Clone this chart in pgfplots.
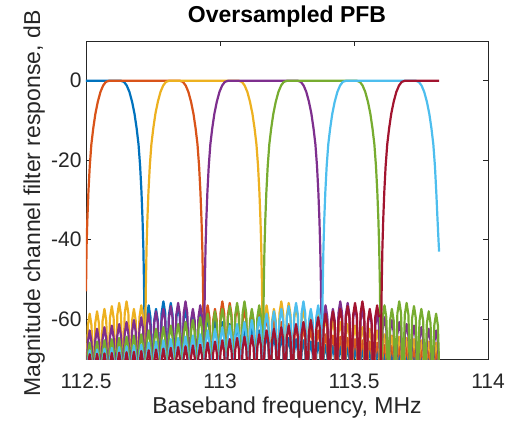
\documentclass[border=0pt]{standalone}
\usepackage{fontspec}
\setmainfont{Liberation Sans}
\usepackage{pgfplots}
\usepackage{pgfplotstable}
\pgfplotsset{compat=1.18}
\definecolor{cB}{RGB}{0,114,189}
\definecolor{cO}{RGB}{217,83,25}
\definecolor{cY}{RGB}{237,177,32}
\definecolor{cP}{RGB}{126,47,142}
\definecolor{cG}{RGB}{119,172,48}
\definecolor{cC}{RGB}{77,190,238}
\definecolor{cM}{RGB}{162,20,47}
\definecolor{axgray}{RGB}{38,38,38}
% stopband side lobes of the seven channels (nan = inside the channel's main lobe)
\pgfplotstableread{
x B O Y P G C M
112.5 nan nan -78 -78 -78 -78 -78
112.5069 nan nan -61.6 -65.8 -68.9 -70.8 -71.8
112.5138 nan nan -58.6 -62.8 -65.9 -67.8 -68.8
112.5206 nan nan -61.6 -65.8 -68.9 -70.8 -71.8
112.5275 nan nan -78 -78 -78 -78 -78
112.5344 nan nan -61 -65.4 -68.6 -70.6 -71.7
112.5413 nan nan -58 -62.4 -65.6 -67.6 -68.7
112.5481 nan nan -61 -65.4 -68.6 -70.6 -71.7
112.555 nan nan -78 -78 -78 -78 -78
112.5619 nan nan -60.4 -65 -68.3 -70.4 -71.6
112.5688 nan nan -57.4 -62 -65.3 -67.4 -68.6
112.5756 nan nan -60.4 -65 -68.3 -70.4 -71.6
112.5825 nan nan -78 -78 -78 -78 -78
112.5894 nan nan -59.7 -64.6 -68 -70.2 -71.5
112.5963 nan nan -56.7 -61.6 -65 -67.2 -68.5
112.6031 nan nan -59.7 -64.6 -68 -70.2 -71.5
112.61 nan nan -78 -78 -78 -78 -78
112.6169 nan nan -58.9 -64.2 -67.7 -70 -71.4
112.6238 nan nan -55.9 -61.2 -64.7 -67 -68.4
112.6306 nan nan -58.9 -64.2 -67.7 -70 -71.4
112.6375 nan nan -78 -78 -78 -78 -78
112.6444 nan nan -58.5 -63.7 -67.4 -69.8 -71.3
112.6513 nan nan -55.5 -60.7 -64.4 -66.8 -68.3
112.6581 nan nan -58.5 -63.7 -67.4 -69.8 -71.3
112.665 nan nan -78 -78 -78 -78 -78
112.6719 nan nan -60.4 -63.2 -67.1 -69.6 -71.2
112.6788 nan nan -57.4 -60.2 -64.1 -66.6 -68.2
112.6856 nan nan -60.4 -63.2 -67.1 -69.6 -71.2
112.6925 nan nan -78 -78 -78 -78 -78
112.6994 nan nan -59.5 -62.5 -66.8 -69.4 -71
112.7063 nan nan -56.5 -59.5 -63.8 -66.4 -68
112.7131 nan nan -59.5 -62.5 -66.8 -69.4 -71
112.72 -78 nan -78 -78 -78 -78 -78
112.7269 -59.5 nan nan -61.6 -65.8 -68.9 -70.8
112.7338 -56.5 nan nan -58.6 -62.8 -65.9 -67.8
112.7406 -59.5 nan nan -61.6 -65.8 -68.9 -70.8
112.7475 -78 nan nan -78 -78 -78 -78
112.7544 -60.4 nan nan -61 -65.4 -68.6 -70.6
112.7613 -57.4 nan nan -58 -62.4 -65.6 -67.6
112.7681 -60.4 nan nan -61 -65.4 -68.6 -70.6
112.775 -78 nan nan -78 -78 -78 -78
112.7819 -58.5 nan nan -60.4 -65 -68.3 -70.4
112.7888 -55.5 nan nan -57.4 -62 -65.3 -67.4
112.7956 -58.5 nan nan -60.4 -65 -68.3 -70.4
112.8025 -78 nan nan -78 -78 -78 -78
112.8094 -58.9 nan nan -59.7 -64.6 -68 -70.2
112.8163 -55.9 nan nan -56.7 -61.6 -65 -67.2
112.8231 -58.9 nan nan -59.7 -64.6 -68 -70.2
112.83 -78 nan nan -78 -78 -78 -78
112.8369 -59.7 nan nan -58.9 -64.2 -67.7 -70
112.8438 -56.7 nan nan -55.9 -61.2 -64.7 -67
112.8506 -59.7 nan nan -58.9 -64.2 -67.7 -70
112.8575 -78 nan nan -78 -78 -78 -78
112.8644 -60.4 nan nan -58.5 -63.7 -67.4 -69.8
112.8713 -57.4 nan nan -55.5 -60.7 -64.4 -66.8
112.8781 -60.4 nan nan -58.5 -63.7 -67.4 -69.8
112.885 -78 nan nan -78 -78 -78 -78
112.8919 -61 nan nan -60.4 -63.2 -67.1 -69.6
112.8988 -58 nan nan -57.4 -60.2 -64.1 -66.6
112.9056 -61 nan nan -60.4 -63.2 -67.1 -69.6
112.9125 -78 nan nan -78 -78 -78 -78
112.9194 -61.6 nan nan -59.5 -62.5 -66.8 -69.4
112.9263 -58.6 nan nan -56.5 -59.5 -63.8 -66.4
112.9331 -61.6 nan nan -59.5 -62.5 -66.8 -69.4
112.94 -78 -78 nan -78 -78 -78 -78
112.9469 -62.5 -59.5 nan nan -61.6 -65.8 -68.9
112.9538 -59.5 -56.5 nan nan -58.6 -62.8 -65.9
112.9606 -62.5 -59.5 nan nan -61.6 -65.8 -68.9
112.9675 -78 -78 nan nan -78 -78 -78
112.9744 -63.2 -60.4 nan nan -61 -65.4 -68.6
112.9813 -60.2 -57.4 nan nan -58 -62.4 -65.6
112.9881 -63.2 -60.4 nan nan -61 -65.4 -68.6
112.995 -78 -78 nan nan -78 -78 -78
113.0019 -63.7 -58.5 nan nan -60.4 -65 -68.3
113.0088 -60.7 -55.5 nan nan -57.4 -62 -65.3
113.0156 -63.7 -58.5 nan nan -60.4 -65 -68.3
113.0225 -78 -78 nan nan -78 -78 -78
113.0294 -64.2 -58.9 nan nan -59.7 -64.6 -68
113.0363 -61.2 -55.9 nan nan -56.7 -61.6 -65
113.0431 -64.2 -58.9 nan nan -59.7 -64.6 -68
113.05 -78 -78 nan nan -78 -78 -78
113.0569 -64.6 -59.7 nan nan -58.9 -64.2 -67.7
113.0638 -61.6 -56.7 nan nan -55.9 -61.2 -64.7
113.0706 -64.6 -59.7 nan nan -58.9 -64.2 -67.7
113.0775 -78 -78 nan nan -78 -78 -78
113.0844 -65 -60.4 nan nan -58.5 -63.7 -67.4
113.0913 -62 -57.4 nan nan -55.5 -60.7 -64.4
113.0981 -65 -60.4 nan nan -58.5 -63.7 -67.4
113.105 -78 -78 nan nan -78 -78 -78
113.1119 -65.4 -61 nan nan -60.4 -63.2 -67.1
113.1188 -62.4 -58 nan nan -57.4 -60.2 -64.1
113.1256 -65.4 -61 nan nan -60.4 -63.2 -67.1
113.1325 -78 -78 nan nan -78 -78 -78
113.1394 -65.8 -61.6 nan nan -59.5 -62.5 -66.8
113.1463 -62.8 -58.6 nan nan -56.5 -59.5 -63.8
113.1531 -65.8 -61.6 nan nan -59.5 -62.5 -66.8
113.16 -78 -78 -78 nan -78 -78 -78
113.1669 -66.8 -62.5 -59.5 nan nan -61.6 -65.8
113.1738 -63.8 -59.5 -56.5 nan nan -58.6 -62.8
113.1806 -66.8 -62.5 -59.5 nan nan -61.6 -65.8
113.1875 -78 -78 -78 nan nan -78 -78
113.1944 -67.1 -63.2 -60.4 nan nan -61 -65.4
113.2013 -64.1 -60.2 -57.4 nan nan -58 -62.4
113.2081 -67.1 -63.2 -60.4 nan nan -61 -65.4
113.215 -78 -78 -78 nan nan -78 -78
113.2219 -67.4 -63.7 -58.5 nan nan -60.4 -65
113.2288 -64.4 -60.7 -55.5 nan nan -57.4 -62
113.2356 -67.4 -63.7 -58.5 nan nan -60.4 -65
113.2425 -78 -78 -78 nan nan -78 -78
113.2494 -67.7 -64.2 -58.9 nan nan -59.7 -64.6
113.2563 -64.7 -61.2 -55.9 nan nan -56.7 -61.6
113.2631 -67.7 -64.2 -58.9 nan nan -59.7 -64.6
113.27 -78 -78 -78 nan nan -78 -78
113.2769 -68 -64.6 -59.7 nan nan -58.9 -64.2
113.2838 -65 -61.6 -56.7 nan nan -55.9 -61.2
113.2906 -68 -64.6 -59.7 nan nan -58.9 -64.2
113.2975 -78 -78 -78 nan nan -78 -78
113.3044 -68.3 -65 -60.4 nan nan -58.5 -63.7
113.3113 -65.3 -62 -57.4 nan nan -55.5 -60.7
113.3181 -68.3 -65 -60.4 nan nan -58.5 -63.7
113.325 -78 -78 -78 nan nan -78 -78
113.3319 -68.6 -65.4 -61 nan nan -60.4 -63.2
113.3388 -65.6 -62.4 -58 nan nan -57.4 -60.2
113.3456 -68.6 -65.4 -61 nan nan -60.4 -63.2
113.3525 -78 -78 -78 nan nan -78 -78
113.3594 -68.9 -65.8 -61.6 nan nan -59.5 -62.5
113.3663 -65.9 -62.8 -58.6 nan nan -56.5 -59.5
113.3731 -68.9 -65.8 -61.6 nan nan -59.5 -62.5
113.38 -78 -78 -78 -78 nan -78 -78
113.3869 -69.4 -66.8 -62.5 -59.5 nan nan -61.6
113.3938 -66.4 -63.8 -59.5 -56.5 nan nan -58.6
113.4006 -69.4 -66.8 -62.5 -59.5 nan nan -61.6
113.4075 -78 -78 -78 -78 nan nan -78
113.4144 -69.6 -67.1 -63.2 -60.4 nan nan -61
113.4213 -66.6 -64.1 -60.2 -57.4 nan nan -58
113.4281 -69.6 -67.1 -63.2 -60.4 nan nan -61
113.435 -78 -78 -78 -78 nan nan -78
113.4419 -69.8 -67.4 -63.7 -58.5 nan nan -60.4
113.4488 -66.8 -64.4 -60.7 -55.5 nan nan -57.4
113.4556 -69.8 -67.4 -63.7 -58.5 nan nan -60.4
113.4625 -78 -78 -78 -78 nan nan -78
113.4694 -70 -67.7 -64.2 -58.9 nan nan -59.7
113.4763 -67 -64.7 -61.2 -55.9 nan nan -56.7
113.4831 -70 -67.7 -64.2 -58.9 nan nan -59.7
113.49 -78 -78 -78 -78 nan nan -78
113.4969 -70.2 -68 -64.6 -59.7 nan nan -58.9
113.5038 -67.2 -65 -61.6 -56.7 nan nan -55.9
113.5106 -70.2 -68 -64.6 -59.7 nan nan -58.9
113.5175 -78 -78 -78 -78 nan nan -78
113.5244 -70.4 -68.3 -65 -60.4 nan nan -58.5
113.5313 -67.4 -65.3 -62 -57.4 nan nan -55.5
113.5381 -70.4 -68.3 -65 -60.4 nan nan -58.5
113.545 -78 -78 -78 -78 nan nan -78
113.5519 -70.6 -68.6 -65.4 -61 nan nan -60.4
113.5588 -67.6 -65.6 -62.4 -58 nan nan -57.4
113.5656 -70.6 -68.6 -65.4 -61 nan nan -60.4
113.5725 -78 -78 -78 -78 nan nan -78
113.5794 -70.8 -68.9 -65.8 -61.6 nan nan -59.5
113.5863 -67.8 -65.9 -62.8 -58.6 nan nan -56.5
113.5931 -70.8 -68.9 -65.8 -61.6 nan nan -59.5
113.6 -78 -78 -78 -78 -78 nan nan
113.6069 -71 -69.4 -66.8 -62.5 -59.5 nan nan
113.6138 -68 -66.4 -63.8 -59.5 -56.5 nan nan
113.6206 -71 -69.4 -66.8 -62.5 -59.5 nan nan
113.6275 -78 -78 -78 -78 -78 nan nan
113.6344 -71.2 -69.6 -67.1 -63.2 -60.4 nan nan
113.6413 -68.2 -66.6 -64.1 -60.2 -57.4 nan nan
113.6481 -71.2 -69.6 -67.1 -63.2 -60.4 nan nan
113.655 -78 -78 -78 -78 -78 nan nan
113.6619 -71.3 -69.8 -67.4 -63.7 -58.5 nan nan
113.6688 -68.3 -66.8 -64.4 -60.7 -55.5 nan nan
113.6756 -71.3 -69.8 -67.4 -63.7 -58.5 nan nan
113.6825 -78 -78 -78 -78 -78 nan nan
113.6894 -71.4 -70 -67.7 -64.2 -58.9 nan nan
113.6963 -68.4 -67 -64.7 -61.2 -55.9 nan nan
113.7031 -71.4 -70 -67.7 -64.2 -58.9 nan nan
113.71 -78 -78 -78 -78 -78 nan nan
113.7169 -71.5 -70.2 -68 -64.6 -59.7 nan nan
113.7238 -68.5 -67.2 -65 -61.6 -56.7 nan nan
113.7306 -71.5 -70.2 -68 -64.6 -59.7 nan nan
113.7375 -78 -78 -78 -78 -78 nan nan
113.7444 -71.6 -70.4 -68.3 -65 -60.4 nan nan
113.7513 -68.6 -67.4 -65.3 -62 -57.4 nan nan
113.7581 -71.6 -70.4 -68.3 -65 -60.4 nan nan
113.765 -78 -78 -78 -78 -78 nan nan
113.7719 -71.7 -70.6 -68.6 -65.4 -61 nan nan
113.7788 -68.7 -67.6 -65.6 -62.4 -58 nan nan
113.7856 -71.7 -70.6 -68.6 -65.4 -61 nan nan
113.7925 -78 -78 -78 -78 -78 nan nan
113.7994 -71.8 -70.8 -68.9 -65.8 -61.6 nan nan
113.8063 -68.8 -67.8 -65.9 -62.8 -58.6 nan nan
113.8131 -71.8 -70.8 -68.9 -65.8 -61.6 nan nan
113.82 -78 -78 -78 -78 -78 nan nan
}\side

\begin{document}
\begin{tikzpicture}
\begin{axis}[
  at={(0pt,0pt)}, anchor=south west,
  width=402pt, height=318pt, scale only axis,
  xmin=112.5, xmax=114, ymin=-70, ymax=10,
  xtick={112.5,113,113.5,114}, xticklabels={112.5,113,113.5,114},
  ytick={-60,-40,-20,0}, yticklabels={-60,-40,-20,0},
  tick pos=both, tick align=inside, major tick length=5pt,
  axis line style={draw=axgray, line width=0.9pt},
  every tick/.style={draw=axgray, line width=0.9pt},
  ticklabel style={font=\fontsize{21}{25}\selectfont, text=axgray},
  xticklabel style={anchor=base, yshift=-29pt},
  yticklabel style={anchor=east, xshift=-1pt},
  title={Oversampled PFB},
  title style={font=\fontsize{23}{27}\selectfont\bfseries, text=black, at={(axis description cs:0.5,1)}, anchor=base, yshift=13pt},
  xlabel={Baseband frequency, MHz},
  every axis x label/.style={font=\fontsize{23}{27}\selectfont, text=axgray, at={(axis description cs:0.5,0)}, anchor=base, yshift=-54pt},
  ylabel={Magnitude channel filter response, dB},
  every axis y label/.style={font=\fontsize{23}{27}\selectfont, text=axgray, at={(axis description cs:-0.1144,0.489)}, rotate=90, anchor=base},
  unbounded coords=jump,
  every axis plot/.append style={line width=2.2pt, line join=round, no markers},
]
% channel 1
\addplot[cB] coordinates {(112.5,0) (112.63,0) (112.642,-0.3) (112.652,-1.2) (112.662,-2.8) (112.672,-5.3) (112.681,-8.3) (112.689,-12) (112.696,-16) (112.702,-21.5) (112.707,-28) (112.711,-35) (112.714,-42) (112.7165,-51) (112.718,-59) (112.719,-68) (112.72,-90)};
\addplot[cB] table[x=x,y=B]{\side};
% channel 2
\addplot[cO] coordinates {(112.5,-53) (112.502,-42) (112.505,-35) (112.509,-28) (112.514,-21.5) (112.52,-16) (112.527,-12) (112.535,-8.3) (112.544,-5.3) (112.554,-2.8) (112.564,-1.2) (112.574,-0.3) (112.586,0) (112.85,0) (112.862,-0.3) (112.872,-1.2) (112.882,-2.8) (112.892,-5.3) (112.901,-8.3) (112.909,-12) (112.916,-16) (112.922,-21.5) (112.927,-28) (112.931,-35) (112.934,-42) (112.9365,-51) (112.938,-59) (112.939,-68) (112.94,-90)};
\addplot[cO] table[x=x,y=O]{\side};
% channel 3
\addplot[cY] coordinates {(112.72,-90) (112.721,-68) (112.722,-59) (112.7235,-51) (112.726,-42) (112.729,-35) (112.733,-28) (112.738,-21.5) (112.744,-16) (112.751,-12) (112.759,-8.3) (112.768,-5.3) (112.778,-2.8) (112.788,-1.2) (112.798,-0.3) (112.81,0) (113.07,0) (113.082,-0.3) (113.092,-1.2) (113.102,-2.8) (113.112,-5.3) (113.121,-8.3) (113.129,-12) (113.136,-16) (113.142,-21.5) (113.147,-28) (113.151,-35) (113.154,-42) (113.1565,-51) (113.158,-59) (113.159,-68) (113.16,-90)};
\addplot[cY] table[x=x,y=Y]{\side};
% channel 4
\addplot[cP] coordinates {(112.94,-90) (112.941,-68) (112.942,-59) (112.9435,-51) (112.946,-42) (112.949,-35) (112.953,-28) (112.958,-21.5) (112.964,-16) (112.971,-12) (112.979,-8.3) (112.988,-5.3) (112.998,-2.8) (113.008,-1.2) (113.018,-0.3) (113.03,0) (113.29,0) (113.302,-0.3) (113.312,-1.2) (113.322,-2.8) (113.332,-5.3) (113.341,-8.3) (113.349,-12) (113.356,-16) (113.362,-21.5) (113.367,-28) (113.371,-35) (113.374,-42) (113.3765,-51) (113.378,-59) (113.379,-68) (113.38,-90)};
\addplot[cP] table[x=x,y=P]{\side};
% channel 5
\addplot[cG] coordinates {(113.16,-90) (113.161,-68) (113.162,-59) (113.1635,-51) (113.166,-42) (113.169,-35) (113.173,-28) (113.178,-21.5) (113.184,-16) (113.191,-12) (113.199,-8.3) (113.208,-5.3) (113.218,-2.8) (113.228,-1.2) (113.238,-0.3) (113.25,0) (113.51,0) (113.522,-0.3) (113.532,-1.2) (113.542,-2.8) (113.552,-5.3) (113.561,-8.3) (113.569,-12) (113.576,-16) (113.582,-21.5) (113.587,-28) (113.591,-35) (113.594,-42) (113.5965,-51) (113.598,-59) (113.599,-68) (113.6,-90)};
\addplot[cG] table[x=x,y=G]{\side};
% channel 6
\addplot[cC] coordinates {(113.38,-90) (113.381,-68) (113.382,-59) (113.3835,-51) (113.386,-42) (113.389,-35) (113.393,-28) (113.398,-21.5) (113.404,-16) (113.411,-12) (113.419,-8.3) (113.428,-5.3) (113.438,-2.8) (113.448,-1.2) (113.458,-0.3) (113.47,0) (113.73,0) (113.742,-0.3) (113.752,-1.2) (113.762,-2.8) (113.772,-5.3) (113.781,-8.3) (113.789,-12) (113.796,-16) (113.802,-21.5) (113.807,-28) (113.811,-34) (113.8145,-39) (113.8175,-43)};
\addplot[cC] table[x=x,y=C]{\side};
% channel 7
\addplot[cM] coordinates {(113.6,-90) (113.601,-68) (113.602,-59) (113.6035,-51) (113.606,-42) (113.609,-35) (113.613,-28) (113.618,-21.5) (113.624,-16) (113.631,-12) (113.639,-8.3) (113.648,-5.3) (113.658,-2.8) (113.668,-1.2) (113.678,-0.3) (113.69,0) (113.8175,0)};
\addplot[cM] table[x=x,y=M]{\side};
\end{axis}
\pgfresetboundingbox
\path (-86pt,-61pt) rectangle (422pt,359pt);
\end{tikzpicture}
\end{document}
